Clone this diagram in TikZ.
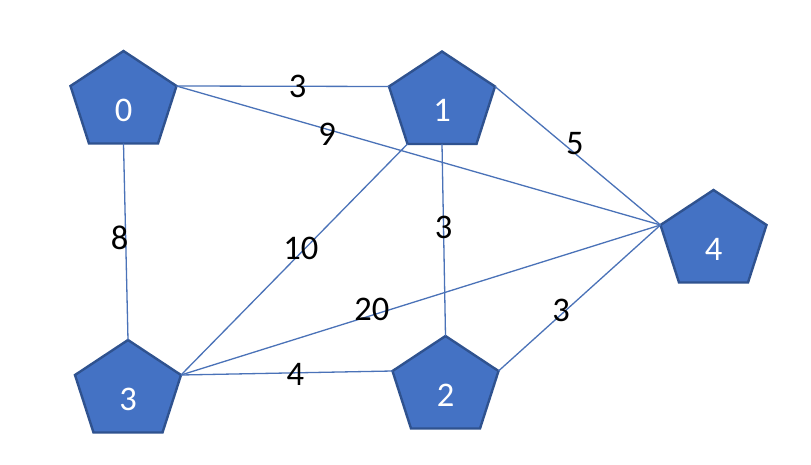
\documentclass[tikz,border=0pt]{standalone}
\usepackage{fontspec}
\setmainfont{Carlito}
\definecolor{pfill}{HTML}{4472C4}
\definecolor{pline}{HTML}{2F528F}
\definecolor{eline}{HTML}{4A72B8}
\newcommand\mypent[4]{%
  \begin{scope}[shift={(#2,#3)}]
    \coordinate (#1-t) at (0,0);
    \coordinate (#1-r) at (53,35);
    \coordinate (#1-br) at (34.5,92.5);
    \coordinate (#1-b) at (0,92.5);
    \coordinate (#1-bl) at (-34.5,92.5);
    \coordinate (#1-l) at (-53,35);
    \filldraw[pentbody] (#1-t) -- (#1-r) -- (#1-br) -- (#1-bl) -- (#1-l) -- cycle;
    \node[plabel] (#1) at (0,59) {#4};
  \end{scope}}
\begin{document}
\begin{tikzpicture}[x=1pt,y=-1pt,
  pentbody/.style={fill=pfill, draw=pline, line width=2.4pt, line join=miter},
  plabel/.style={text=white, font=\fontsize{34.5}{38}\selectfont, inner sep=0pt},
  edge/.style={draw=eline, line width=1.3pt},
  elabel/.style={text=black, font=\fontsize{34.5}{38}\selectfont, inner sep=0pt}]
\useasboundingbox[fill=white] (0,0) rectangle (811,465);
\mypent{p0}{123.5}{51}{0}
\mypent{p1}{442}{51.5}{1}
\mypent{p4}{713.5}{190}{4}
\mypent{p3}{128}{340}{3}
\mypent{p2}{445.5}{336}{2}
\draw[edge] (p0-r) -- node[elabel, pos=0.57] (w01) {3} (p1-l);
\draw[edge] (p0-r) -- node[elabel, pos=0.311, yshift=-5pt] (w04) {9} (p4-l);
\draw[edge] (p0-b) -- node[elabel, pos=0.481, xshift=-6pt] (w03) {8} (p3-t);
\draw[edge] (p1-r) -- node[elabel, pos=0.483, yshift=10pt] (w14) {5} (p4-l);
\draw[edge] (p3-r) -- node[elabel, pos=0.529, yshift=4pt] (w13) {10} (p1-bl);
\draw[edge] (p1-b) -- node[elabel, pos=0.432] (w12) {3} (p2-t);
\draw[edge] (p3-r) -- node[elabel, pos=0.398, yshift=6pt] (w34) {20} (p4-l);
\draw[edge] (p3-r) -- node[elabel, pos=0.541, yshift=-2pt] (w32) {4} (p2-l);
\draw[edge] (p2-r) -- node[elabel, pos=0.386, yshift=4.5pt] (w24) {3} (p4-l);
\end{tikzpicture}
\end{document}
